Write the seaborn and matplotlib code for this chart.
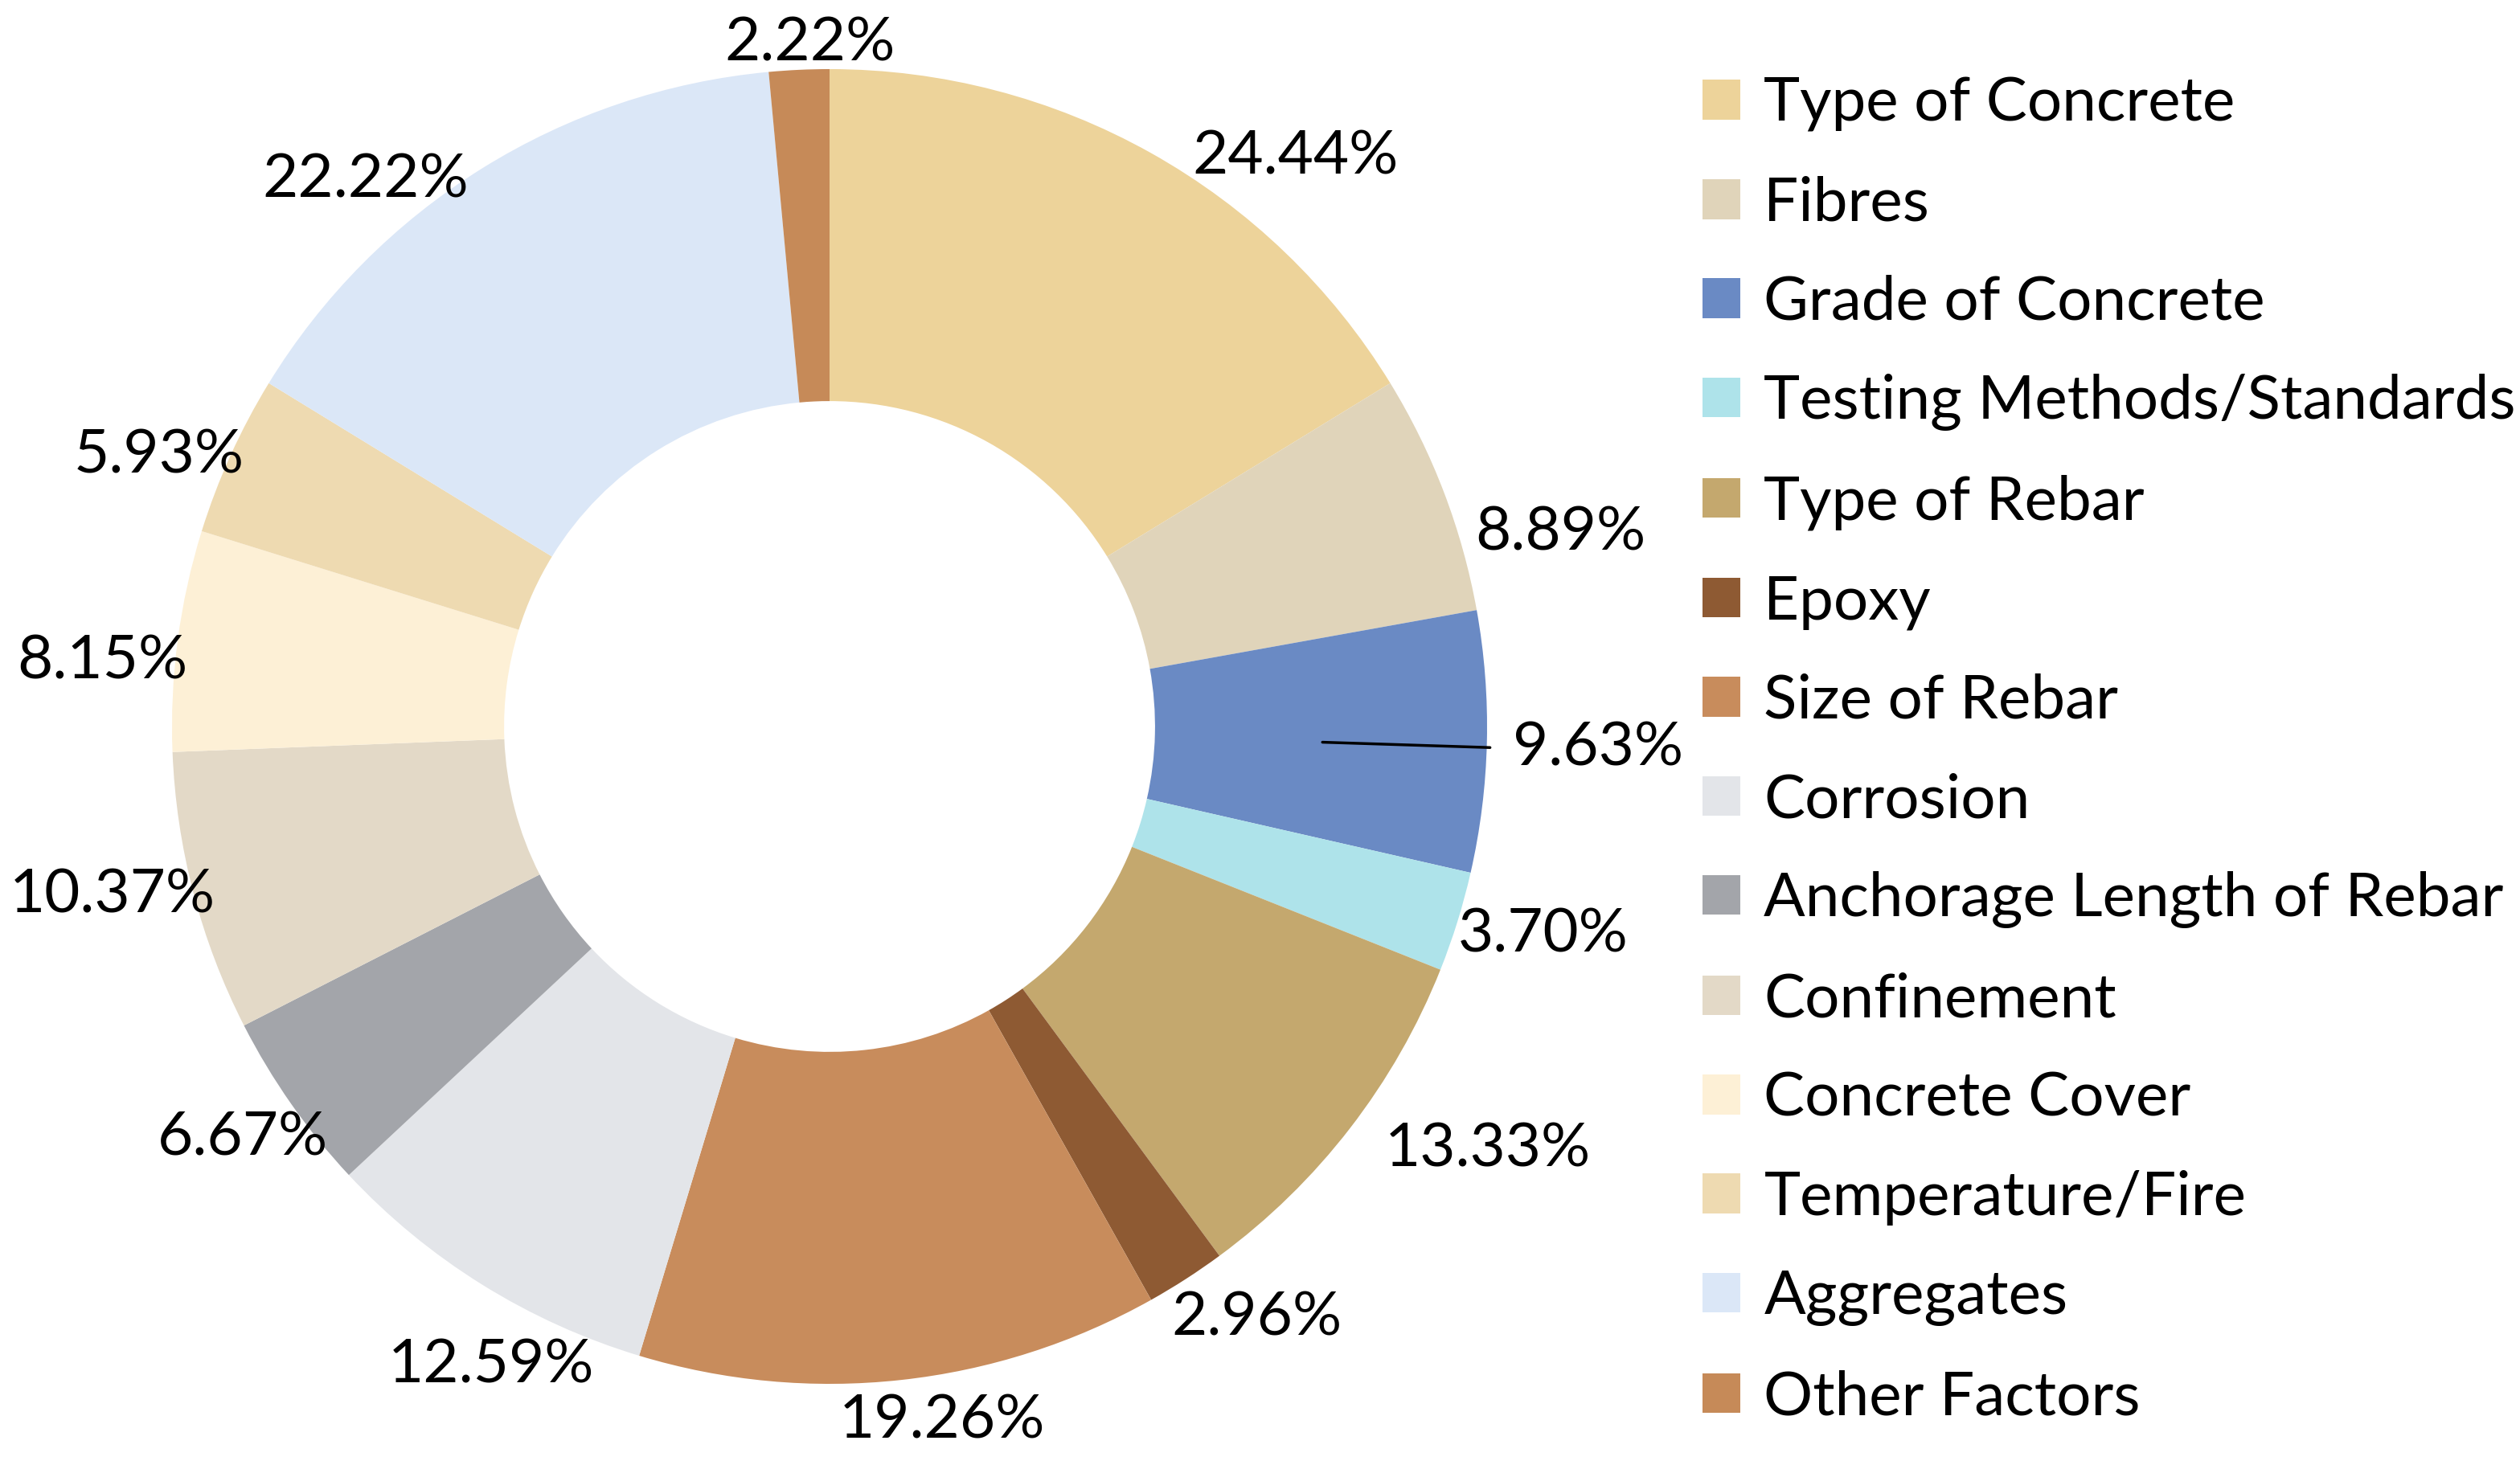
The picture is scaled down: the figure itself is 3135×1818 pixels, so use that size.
import numpy as np
import matplotlib
matplotlib.use("Agg")
import matplotlib.pyplot as plt
import seaborn as sns

categories = ["Type of Concrete", "Fibres", "Grade of Concrete", "Testing Methods/Standards",
              "Type of Rebar", "Epoxy", "Size of Rebar", "Corrosion",
              "Anchorage Length of Rebar", "Confinement", "Concrete Cover",
              "Temperature/Fire", "Aggregates", "Other Factors"]
values = [24.44, 8.89, 9.63, 3.70, 13.33, 2.96, 19.26, 12.59, 6.67, 10.37, 8.15, 5.93, 22.22, 2.22]
labels = ["24.44%", "8.89%", "9.63%", "3.70%", "13.33%", "2.96%", "19.26%", "12.59%",
          "6.67%", "10.37%", "8.15%", "5.93%", "22.22%", "2.22%"]
colors = ["#EDD39A", "#E0D4BA", "#6A8AC4", "#AEE3EA", "#C4A86E", "#8E5A33", "#C88C5C",
          "#E3E5E9", "#A3A5AA", "#E3D9C7", "#FDF0D6", "#EEDAB1", "#DBE7F7", "#C68A58"]

sns.set_theme(style="white")
plt.rcParams['font.family'] = ['Lato', 'DejaVu Sans']

W, H = 3135, 1818
fig = plt.figure(figsize=(W / 100, H / 100), dpi=100)
cx, cy, R = 1032, 904, 818
ax = fig.add_axes([(cx - R) / W, (H - cy - R) / H, 2 * R / W, 2 * R / H])

wedges, _ = ax.pie(values, colors=colors, startangle=90, counterclock=False, radius=1.0,
                   wedgeprops=dict(width=0.505, linewidth=0))
ax.set_xlim(-1, 1)
ax.set_ylim(-1, 1)
ax.set_aspect("equal")
ax.axis("off")

# label placement (angle shift from slice middle in degrees, radius factor)
label_shift = [10, 6, 0.5, -1, -5, -3, -3, -4, 0, 1.4, -2.4, -2.4, -8.4, 1]
label_radius = [1.12, 1.15, 1.04, 1.13, 1.19, 1.11, 1.07, 1.10, 1.09, 1.12, 1.11, 1.10, 1.09, 1.04]
fs = 55
total = sum(values)
cum = 0
for i, v in enumerate(values):
    mid = (cum + v / 2) / total * 360
    cum += v
    a = mid + label_shift[i]
    th = np.deg2rad(a)
    r = label_radius[i]
    x, y = r * np.sin(th), r * np.cos(th)
    if i == 2:
        ax.plot([0.75 * np.sin(th), 1.005 * np.sin(th)], [0.75 * np.cos(th), 1.005 * np.cos(th)],
                color="black", lw=2.5, clip_on=False)
        ax.text(x, y, labels[i], fontsize=fs, ha="left", va="center", color="black")
    else:
        ax.text(x, y, labels[i], fontsize=fs, ha="center", va="center", color="black")

leg = fig.legend(wedges, categories, loc="upper left", bbox_to_anchor=(2118 / W, 1 - 95 / H),
                 frameon=False, fontsize=fs, handlelength=0.62, handleheight=0.62,
                 handletextpad=0.38, labelspacing=0.71, borderpad=0, borderaxespad=0)
for t in leg.get_texts():
    t.set_color("black")

fig.savefig("out.png", dpi=100, facecolor="white")
